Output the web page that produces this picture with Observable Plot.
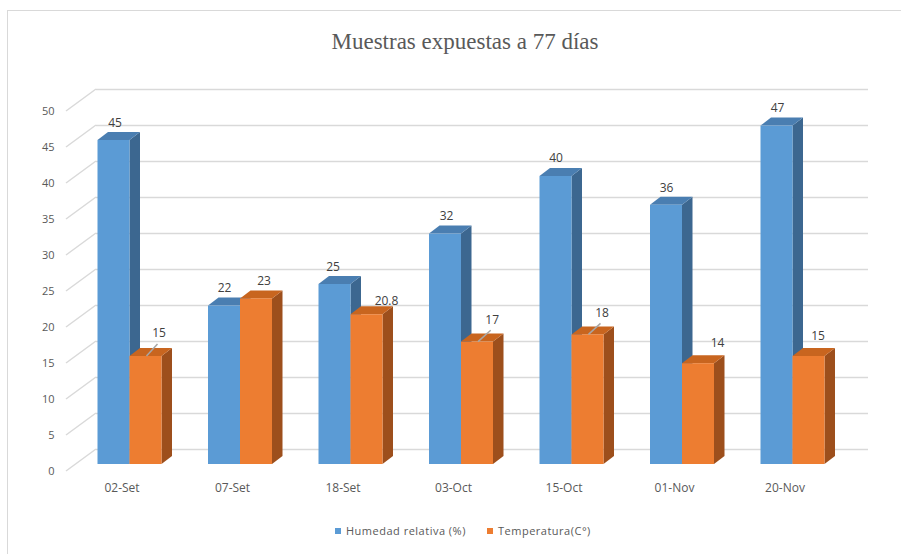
<!DOCTYPE html>
<html>
<head>
<meta charset="utf-8">
<script src="https://cdn.jsdelivr.net/npm/d3@7"></script>
<script src="https://cdn.jsdelivr.net/npm/@observablehq/plot@0.6"></script>
<style>
  html, body { margin: 0; padding: 0; background: #fff; overflow: hidden; }
  #wrap { position: relative; width: 901px; height: 554px; overflow: hidden; font-family: "Open Sans", sans-serif; background: #fff; }
  #frame { position: absolute; left: 7px; top: 10px; width: 1000px; height: 1000px; border-left: 1.5px solid #d9d9d9; border-top: 1.5px solid #d9d9d9; }
  #chart { position: absolute; left: 0; top: 0; }
  #title { position: absolute; left: 0; width: 930px; top: 29px; line-height: 26px; text-align: center;
           font-family: "Liberation Serif", "Times New Roman", serif; font-size: 23px; color: #595959; }
  .sw { position: absolute; width: 6px; height: 6px; top: 528px; }
  .lt { position: absolute; top: 523px; line-height: 16px; font-size: 11px; letter-spacing: 0.5px; color: #595959; white-space: nowrap; }
</style>
</head>
<body>
<div id="wrap">
  <div id="frame"></div>
  <div id="chart"></div>
  <div id="title"></div>
  <div id="legend"></div>
</div>
<script>
// ---- data ----
const title = "Muestras expuestas a 77 días";
const categories = ["02-Set", "07-Set", "18-Set", "03-Oct", "15-Oct", "01-Nov", "20-Nov"];
const humedad = [45, 22, 25, 32, 40, 36, 47];
const temperatura = [15, 23, 20.8, 17, 18, 14, 15];
const seriesNames = ["Humedad relativa (%)", "Temperatura(C°)"];
const yTicks = [0, 5, 10, 15, 20, 25, 30, 35, 40, 45, 50];

// ---- layout / style ----
const BW = 32 / 110.5;            // bar width in x units
const DEPTH = [10.5, -8];          // 3D depth offset in px
const palette = {
  blue:   { front: "#5B9BD5", top: "#4A7EB1", side: "#3C6790" },
  orange: { front: "#ED7D31", top: "#C8651F", side: "#9D4F1C" }
};
const textColor = "#595959";
// label nudges (px) for data labels
const nudgeH = [[1, -17.5], [0, -17.5], [-2, -17.5], [1, -17.5], [0, -18], [0, -17.5], [0.5, -18]];
const nudgeT = [[13, -23], [7.5, -18], [19.5, -14], [14.7, -22.3], [14, -22], [19, -20.5], [9, -20]];
const leaders = [0, 3, 4];

const rows = categories.map((cat, i) => ({ i, cat, h: humedad[i], t: temperatura[i] }));

function sideTop(key, off0, off1, pal) {
  return (index, scales) => {
    const g = d3.create("svg:g");
    const [dx, dy] = DEPTH;
    for (const r of rows) {
      const x1 = scales.x(r.i + off0), x2 = scales.x(r.i + off1);
      const y0 = scales.y(0), yt = scales.y(r[key]);
      g.append("path")
        .attr("d", `M${x2},${yt}L${x2 + dx},${yt + dy}L${x2 + dx},${y0 + dy}L${x2},${y0}Z`)
        .attr("fill", pal.side);
      g.append("path")
        .attr("d", `M${x1},${yt}L${x1 + dx},${yt + dy}L${x2 + dx},${yt + dy}L${x2},${yt}Z`)
        .attr("fill", pal.top);
    }
    return g.node();
  };
}

function slantTicks(index, scales, values, dimensions) {
  const g = d3.create("svg:g");
  const ml = dimensions.marginLeft;
  for (const v of yTicks) {
    const y = scales.y(v);
    g.append("line")
      .attr("x1", ml + 6).attr("y1", y + 7)
      .attr("x2", ml + 36).attr("y2", y - 15)
      .attr("stroke", "#d9d9d9").attr("stroke-width", 1.5);
  }
  return g.node();
}

function leaderLines(index, scales) {
  const g = d3.create("svg:g");
  for (const i of leaders) {
    const xc = scales.x(i + BW / 2), yt = scales.y(temperatura[i]);
    const [nx, ny] = nudgeT[i];
    g.append("line")
      .attr("x1", xc + 1).attr("y1", yt)
      .attr("x2", xc + nx - 1).attr("y2", yt + ny + 11)
      .attr("stroke", "#a6a6a6").attr("stroke-width", 1.5);
  }
  return g.node();
}

const labelStyle = { fill: "#404040", fontSize: 12, fontFamily: "Open Sans" };

const chart = Plot.plot({
  width: 901,
  height: 554,
  marginLeft: 60,
  marginRight: 33,
  marginTop: 0,
  marginBottom: 0,
  style: { background: "transparent", fontFamily: "Open Sans" },
  x: { domain: [0, 6], range: [129.5, 792.5], axis: null },
  y: { domain: [0, 50], range: [464, 104], axis: null },
  marks: [
    Plot.ruleY(yTicks, { y: d => d, dy: -15, insetLeft: 36, stroke: "#d9d9d9", strokeWidth: 1.5 }),
    slantTicks,
    Plot.text(yTicks, { y: d => d, text: d => String(d), frameAnchor: "left", textAnchor: "end",
                        dx: -6, dy: 7, fill: textColor, fontSize: 11, fontFamily: "Open Sans" }),
    Plot.text(rows, { x: "i", y: () => 0, text: "cat", dx: -8, dy: 24, fill: textColor, fontSize: 12, fontFamily: "Open Sans" }),
    sideTop("h", -BW, 0, palette.blue),
    Plot.rect(rows, { x1: d => d.i - BW, x2: d => d.i, y1: () => 0, y2: "h", fill: palette.blue.front }),
    sideTop("t", 0, BW, palette.orange),
    Plot.rect(rows, { x1: d => d.i, x2: d => d.i + BW, y1: () => 0, y2: "t", fill: palette.orange.front }),
    leaderLines,
    ...rows.map((r, i) => Plot.text([r], { x: d => d.i - BW / 2, y: "h", text: d => String(d.h),
                                          dx: nudgeH[i][0], dy: nudgeH[i][1], ...labelStyle })),
    ...rows.map((r, i) => Plot.text([r], { x: d => d.i + BW / 2, y: "t", text: d => String(d.t),
                                          dx: nudgeT[i][0], dy: nudgeT[i][1], ...labelStyle }))
  ]
});
document.getElementById("chart").appendChild(chart);
document.getElementById("title").textContent = title;

// legend
const legend = document.getElementById("legend");
const legendItems = [
  { name: seriesNames[0], color: palette.blue.front, sx: 335, tx: 346 },
  { name: seriesNames[1], color: palette.orange.front, sx: 487, tx: 498 }
];
for (const it of legendItems) {
  const s = document.createElement("div");
  s.className = "sw"; s.style.left = it.sx + "px"; s.style.background = it.color;
  legend.appendChild(s);
  const t = document.createElement("div");
  t.className = "lt"; t.style.left = it.tx + "px"; t.textContent = it.name;
  legend.appendChild(t);
}
</script>
</body>
</html>
